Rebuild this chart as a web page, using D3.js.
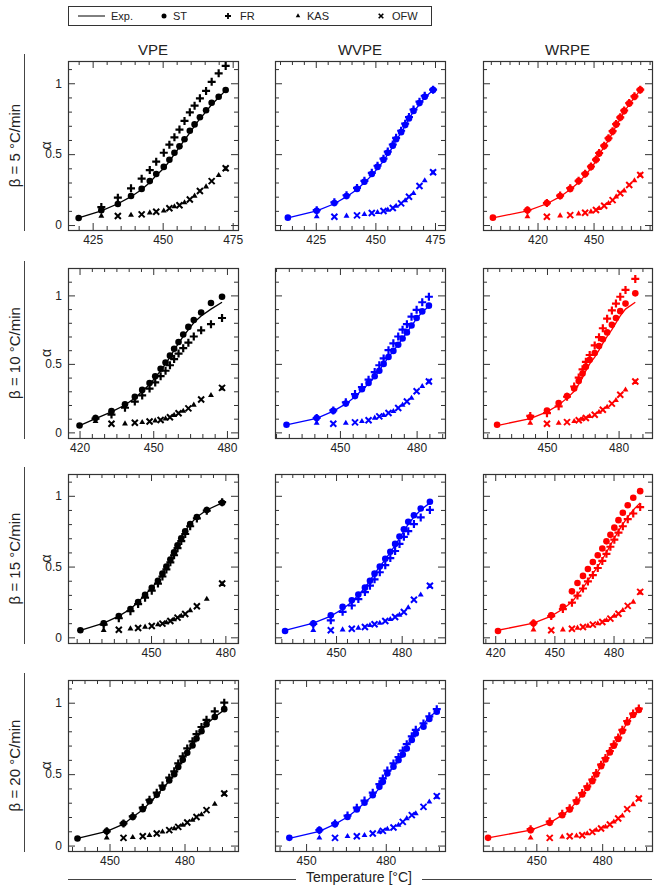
<!DOCTYPE html>
<html><head><meta charset="utf-8">
<script src="https://cdn.jsdelivr.net/npm/d3@7"></script>
<style>body{margin:0;background:#fff}svg{display:block}text{font-family:"Liberation Sans",Arial,sans-serif;fill:#222}</style>
</head><body><svg id="c" width="658" height="886"></svg>
<script>
// ---------- labels ----------
const colLabels = ["VPE", "WVPE", "WRPE"];
const rowLabels = ["β = 5 °C/min", "β = 10 °C/min", "β = 15 °C/min", "β = 20 °C/min"];
const colColors = ["#000000", "#0000ff", "#ff0000"];
const legendLabels = ["Exp.", "ST", "FR", "KAS", "OFW"];
const xTitle = "Temperature [°C]";
const yTitle = "α";
const yTickVals = [0, 0.5, 1];
const xTickVals = [
  [425, 450, 475], [425, 450, 475], [420, 450],
  [420, 450, 480], [450, 480], [450, 480],
  [450, 480], [450, 480], [420, 450, 480],
  [450, 480], [450, 480], [450, 480]
];
const xDomains = [
  [416.2, 476.9], [407.9, 479.2], [390.8, 481.3],
  [415.3, 484.5], [424.6, 491.1], [423.2, 494.0],
  [416.5, 485.1], [422.1, 499.8], [413.8, 499.5],
  [433.4, 501.4], [438.3, 502.3], [425.7, 502.7]
];
const yDomains = [[-0.035, 1.157], [-0.041, 1.2], [-0.04, 1.154], [-0.038, 1.159]];

// ---------- data ----------
const alphaLevels = [0.05,0.1,0.15,0.2,0.25,0.3,0.35,0.4,0.45,0.5,0.55,0.6,0.65,0.7,0.75,0.8,0.85,0.9,0.95];

// VPE, 5 °C/min
const T_VPE5   = [420,428.1,434,438.7,442.5,445.4,447.7,450.4,452.4,454.2,456,457.8,459.7,461.4,463.3,465.5,467.5,470,472.5];
const EXP_VPE5 = alphaLevels;
const ST_VPE5  = [0.05,0.105,0.148,0.205,0.255,0.31,0.36,0.41,0.46,0.51,0.555,0.605,0.665,0.71,0.76,0.81,0.862,0.905,0.952];
const FR_VPE5  = [null,0.127,0.193,0.259,0.327,0.388,0.447,0.51,0.567,0.619,0.673,0.734,0.795,0.842,0.894,0.946,1.01,1.07,1.122];
const KAS_VPE5 = [null,0.064,null,0.07,null,0.087,null,0.1,null,0.13,null,0.158,null,0.205,null,0.27,null,0.35,0.395];
const OFW_VPE5 = [null,null,0.064,null,0.075,null,0.094,null,0.118,null,0.14,null,0.18,null,0.24,null,0.31,null,0.4];

// WVPE, 5 °C/min
const T_WVPE5   = [413.3,425.4,432.8,437.9,442.3,445.4,448.5,450.9,453.4,455.2,457.3,458.7,460.8,462.5,464.1,466,468.5,470.7,474.2];
const EXP_WVPE5 = alphaLevels;
const ST_WVPE5  = [0.052,0.101,0.155,0.205,0.255,0.305,0.36,0.41,0.46,0.51,0.56,0.605,0.655,0.705,0.752,0.805,0.86,0.905,0.953];
const FR_WVPE5  = [null,0.105,0.16,0.21,0.262,0.312,0.368,0.418,0.468,0.518,0.568,0.615,0.665,0.715,0.762,0.815,0.87,0.912,0.955];
const KAS_WVPE5 = [null,0.059,null,0.064,null,0.075,null,0.089,null,0.106,null,0.134,null,0.172,null,0.224,null,0.313,0.368];
const OFW_WVPE5 = [null,null,0.059,null,0.068,null,0.085,null,0.099,null,0.12,null,0.153,null,0.2,null,0.275,null,0.372];

// WRPE, 5 °C/min
const T_WRPE5   = [396.1,414.6,425,432.1,437.5,442,445.5,448.6,451.3,453,455.7,458,460.2,462.1,464.3,466.4,469.1,471.9,475];
const EXP_WRPE5 = alphaLevels;
const ST_WRPE5  = [0.052,0.105,0.155,0.205,0.255,0.31,0.36,0.41,0.46,0.505,0.558,0.61,0.66,0.71,0.758,0.805,0.858,0.905,0.953];
const FR_WRPE5  = [null,0.105,0.155,0.208,0.26,0.312,0.362,0.413,0.462,0.508,0.56,0.612,0.662,0.712,0.76,0.808,0.86,0.908,0.955];
const KAS_WRPE5 = [null,0.059,null,0.066,null,0.08,null,0.094,null,0.118,null,0.153,null,0.2,null,0.242,null,0.313,0.35];
const OFW_WRPE5 = [null,null,0.059,null,0.07,null,0.087,null,0.106,null,0.136,null,0.176,null,0.224,null,0.282,null,0.353];

// VPE, 10 °C/min
const T_VPE10   = [420,426.5,433,438.5,442.5,445.5,448.5,450.8,453,455,456.8,458.5,460.3,462.2,464.3,466.5,469.5,473.5,478];
const EXP_VPE10 = alphaLevels;
const ST_VPE10  = [0.05,0.105,0.155,0.205,0.26,0.31,0.36,0.41,0.465,0.51,0.56,0.61,0.66,0.715,0.77,0.82,0.875,0.945,0.99];
const FR_VPE10  = [null,0.1,0.13,0.18,0.225,0.27,0.32,0.365,0.41,0.45,0.49,0.535,0.575,0.615,0.655,0.7,0.745,0.79,0.835];
const KAS_VPE10 = [null,0.08,null,0.063,null,0.073,null,0.085,null,0.1,null,0.125,null,0.155,null,0.2,null,0.27,0.32];
const OFW_VPE10 = [null,null,0.063,null,0.07,null,0.08,null,0.09,null,0.11,null,0.14,null,0.175,null,0.24,null,0.325];

// WVPE, 10 °C/min
const T_WVPE10   = [429.1,440.9,447.4,452.3,455.9,458.6,461.2,463.6,465.4,467.1,469,470.9,472.8,474.5,476.2,478,480,482.2,484.8];
const EXP_WVPE10 = [0.055,0.103,0.155,0.208,0.26,0.31,0.355,0.405,0.45,0.5,0.548,0.595,0.64,0.685,0.73,0.778,0.83,0.878,0.92];
const ST_WVPE10  = [0.056,0.105,0.158,0.21,0.265,0.315,0.36,0.41,0.45,0.5,0.55,0.595,0.64,0.685,0.73,0.78,0.835,0.883,0.925];
const FR_WVPE10  = [null,0.105,0.16,0.22,0.28,0.33,0.385,0.44,0.49,0.54,0.6,0.65,0.7,0.75,0.79,0.845,0.895,0.95,0.99];
const KAS_WVPE10 = [null,0.068,null,0.068,null,0.08,null,0.105,null,0.124,null,0.153,null,0.2,null,0.25,null,0.336,0.37];
const OFW_WVPE10 = [null,null,0.063,null,0.073,null,0.088,null,0.117,null,0.141,null,0.178,null,0.226,null,0.3,null,0.372];

// WRPE, 10 °C/min
const T_WRPE10   = [429.1,443,450,454.9,458.4,461.4,463.3,464.9,466.3,467.9,470,471.8,473.4,475.2,477.2,478.9,480.7,482.9,487];
const EXP_WRPE10 = alphaLevels;
const ST_WRPE10  = [0.056,0.11,0.16,0.215,0.265,0.32,0.375,0.43,0.48,0.53,0.58,0.63,0.68,0.73,0.785,0.835,0.885,0.94,1.015];
const FR_WRPE10  = [null,0.12,0.14,0.19,0.26,0.335,0.4,0.46,0.515,0.565,0.635,0.695,0.76,0.83,0.89,0.94,0.99,1.04,1.12];
const KAS_WRPE10 = [null,0.068,null,0.068,null,0.08,null,0.097,null,0.117,null,0.148,null,0.185,null,0.234,null,0.31,0.365];
const OFW_WRPE10 = [null,null,0.063,null,0.075,null,0.088,null,0.105,null,0.129,null,0.165,null,0.21,null,0.275,null,0.372];

// VPE, 15 °C/min
const T_VPE15   = [421.5,430.9,437,441.7,444.8,447.6,450.3,452.8,454.6,456.2,457.8,459.3,460.7,462.2,463.8,465.8,468.5,472.5,478.7];
const EXP_VPE15 = alphaLevels;
const ST_VPE15  = alphaLevels;
const FR_VPE15  = [null,0.09,0.135,0.185,0.235,0.28,0.33,0.38,0.43,0.48,0.53,0.58,0.63,0.68,0.73,0.785,0.84,0.895,0.955];
const KAS_VPE15 = [null,0.05,null,0.061,null,0.073,null,0.09,null,0.104,null,0.125,null,0.151,null,0.19,null,0.27,0.375];
const OFW_VPE15 = [null,null,0.054,null,0.066,null,0.08,null,0.097,null,0.116,null,0.139,null,0.165,null,0.22,null,0.38];

// WVPE, 15 °C/min
const T_WVPE15   = [426.7,439.6,447.6,453,457.2,460.2,463.2,465.5,467.6,470,472.5,474.8,477,479,481,483,485.6,488.7,492.9];
const EXP_WVPE15 = alphaLevels;
const ST_WVPE15  = [0.045,0.097,0.156,0.215,0.262,0.302,0.351,0.4,0.45,0.5,0.555,0.605,0.66,0.712,0.764,0.816,0.863,0.91,0.958];
const FR_WVPE15  = [null,0.095,0.12,0.18,0.225,0.27,0.32,0.365,0.41,0.46,0.51,0.56,0.61,0.66,0.71,0.75,0.8,0.847,0.9];
const KAS_WVPE15 = [null,0.05,null,0.054,null,0.066,null,0.085,null,0.101,null,0.127,null,0.158,null,0.21,null,0.3,0.36];
const OFW_WVPE15 = [null,null,0.05,null,0.061,null,0.073,null,0.092,null,0.116,null,0.144,null,0.179,null,0.265,null,0.365];

// WRPE, 15 °C/min
const T_WRPE15   = [421.4,439.4,448.4,454.3,458.9,461.7,464.5,467,469.5,472,474.3,476.4,478.4,480.4,482.5,484.7,487.2,490,493.5];
const EXP_WRPE15 = alphaLevels;
const ST_WRPE15  = [0.045,0.1,0.156,0.215,0.325,0.384,0.434,0.483,0.532,0.58,0.628,0.678,0.724,0.775,0.828,0.88,0.933,0.986,1.033];
const FR_WRPE15  = [null,0.1,0.15,0.2,0.245,0.295,0.345,0.395,0.44,0.49,0.54,0.59,0.64,0.69,0.74,0.785,0.835,0.875,0.92];
const KAS_WRPE15 = [null,0.054,null,0.054,null,0.066,null,0.08,null,0.097,null,0.12,null,0.151,null,0.191,null,0.25,0.315];
const OFW_WRPE15 = [null,null,0.05,null,0.061,null,0.073,null,0.09,null,0.108,null,0.132,null,0.167,null,0.222,null,0.321];

// VPE, 20 °C/min
const T_VPE20   = [437.2,448.9,455.6,459.3,463.3,466,468.9,471.2,473.9,475.9,477.5,479.3,481.1,483.2,484.8,486.8,488.8,492.1,495.9];
const EXP_VPE20 = alphaLevels;
const ST_VPE20  = [0.05,0.1,0.155,0.2,0.255,0.31,0.355,0.405,0.455,0.5,0.55,0.6,0.65,0.7,0.75,0.8,0.85,0.9,0.955];
const FR_VPE20  = [null,0.1,0.155,0.205,0.265,0.32,0.37,0.42,0.475,0.52,0.575,0.625,0.68,0.73,0.78,0.83,0.88,0.94,1.0];
const KAS_VPE20 = [null,0.054,null,0.058,null,0.072,null,0.096,null,0.119,null,0.143,null,0.178,null,0.217,null,0.29,0.36];
const OFW_VPE20 = [null,null,0.054,null,0.065,null,0.084,null,0.108,null,0.131,null,0.161,null,0.2,null,0.248,null,0.365];

// WVPE, 20 °C/min
const T_WVPE20   = [443.7,455,460.9,465.6,469.1,472,475.1,477.6,478.9,480.6,482.9,484.8,486.4,487.9,489.8,491.3,494.2,496.4,499.2];
const EXP_WVPE20 = [0.05,0.1,0.15,0.2,0.25,0.3,0.35,0.4,0.45,0.5,0.55,0.6,0.65,0.7,0.75,0.8,0.85,0.9,0.94];
const ST_WVPE20  = [0.054,0.108,0.15,0.2,0.252,0.3,0.353,0.411,0.446,0.505,0.552,0.598,0.638,0.68,0.739,0.785,0.832,0.886,0.937];
const FR_WVPE20  = [null,0.108,0.155,0.21,0.265,0.315,0.37,0.43,0.47,0.525,0.575,0.62,0.665,0.71,0.765,0.81,0.855,0.905,0.955];
const KAS_WVPE20 = [null,0.054,null,0.065,null,0.072,null,0.096,null,0.115,null,0.143,null,0.19,null,0.224,null,0.306,0.34];
const OFW_WVPE20 = [null,null,0.054,null,0.065,null,0.084,null,0.103,null,0.126,null,0.166,null,0.213,null,0.271,null,0.346];

// WRPE, 20 °C/min
const T_WRPE20   = [428,447.4,456.1,461.8,465.2,468.3,470.9,473.2,475.5,477.3,479.5,481.5,483.5,485.3,487.3,489.2,491.4,494.1,496.7];
const EXP_WRPE20 = [0.054,0.108,0.159,0.213,0.252,0.306,0.358,0.404,0.451,0.498,0.556,0.603,0.652,0.699,0.746,0.8,0.862,0.914,0.949];
const ST_WRPE20  = [0.054,0.108,0.159,0.213,0.252,0.306,0.358,0.404,0.451,0.498,0.556,0.603,0.652,0.699,0.746,0.8,0.862,0.914,0.949];
const FR_WRPE20  = [null,0.115,0.168,0.222,0.262,0.316,0.368,0.414,0.461,0.508,0.566,0.613,0.662,0.709,0.756,0.81,0.872,0.924,0.959];
const KAS_WRPE20 = [null,0.054,null,0.061,null,0.068,null,0.084,null,0.108,null,0.131,null,0.166,null,0.208,null,0.288,0.325];
const OFW_WRPE20 = [null,null,0.054,null,0.065,null,0.072,null,0.096,null,0.119,null,0.147,null,0.189,null,0.255,null,0.33];

const panels = [
  [T_VPE5, EXP_VPE5, ST_VPE5, FR_VPE5, KAS_VPE5, OFW_VPE5],
  [T_WVPE5, EXP_WVPE5, ST_WVPE5, FR_WVPE5, KAS_WVPE5, OFW_WVPE5],
  [T_WRPE5, EXP_WRPE5, ST_WRPE5, FR_WRPE5, KAS_WRPE5, OFW_WRPE5],
  [T_VPE10, EXP_VPE10, ST_VPE10, FR_VPE10, KAS_VPE10, OFW_VPE10],
  [T_WVPE10, EXP_WVPE10, ST_WVPE10, FR_WVPE10, KAS_WVPE10, OFW_WVPE10],
  [T_WRPE10, EXP_WRPE10, ST_WRPE10, FR_WRPE10, KAS_WRPE10, OFW_WRPE10],
  [T_VPE15, EXP_VPE15, ST_VPE15, FR_VPE15, KAS_VPE15, OFW_VPE15],
  [T_WVPE15, EXP_WVPE15, ST_WVPE15, FR_WVPE15, KAS_WVPE15, OFW_WVPE15],
  [T_WRPE15, EXP_WRPE15, ST_WRPE15, FR_WRPE15, KAS_WRPE15, OFW_WRPE15],
  [T_VPE20, EXP_VPE20, ST_VPE20, FR_VPE20, KAS_VPE20, OFW_VPE20],
  [T_WVPE20, EXP_WVPE20, ST_WVPE20, FR_WVPE20, KAS_WVPE20, OFW_WVPE20],
  [T_WRPE20, EXP_WRPE20, ST_WRPE20, FR_WRPE20, KAS_WRPE20, OFW_WRPE20]
];

// ---------- layout ----------
const colX = [[68, 238], [275, 445], [483, 652]];
const rowY = [[61, 230], [268, 438], [474, 643], [680, 851]];
const frameColor = "#333";

const svg = d3.select("#c");

const plusPath = "M-4,0H4M0,-4V4";
const xPath = "M-3,-3L3,3M-3,3L3,-3";
const triPath = d3.symbol(d3.symbolTriangle, 15)();

function drawPanel(r, c) {
  const idx = r * 3 + c;
  const [T, EXP, ST, FR, KAS, OFW] = panels[idx];
  const color = colColors[c];
  const [x0, x1] = colX[c], [y0, y1] = rowY[r];
  const x = d3.scaleLinear().domain(xDomains[idx]).range([x0, x1]);
  const y = d3.scaleLinear().domain(yDomains[r]).range([y1, y0]);
  const g = svg.append("g");
  const dom = x.domain();
  const xMin = d3.range(Math.ceil(dom[0] / 5) * 5, dom[1], 5).filter(v => !xTickVals[idx].includes(v));
  const yMin = [0.1,0.2,0.3,0.4,0.6,0.7,0.8,0.9,1.1].filter(v => v > yDomains[r][0] && v < yDomains[r][1]);

  const style = sel => { sel.select(".domain").remove(); sel.selectAll("line").attr("stroke", frameColor); sel.selectAll("text").style("font-size", "12px").attr("fill", "#222"); };
  g.append("g").attr("transform", `translate(0,${y1})`)
    .call(d3.axisBottom(x).tickValues(xTickVals[idx]).tickFormat(d3.format("d")).tickSizeInner(-7).tickSizeOuter(0).tickPadding(5)).call(style);
  g.append("g").attr("transform", `translate(0,${y1})`)
    .call(d3.axisBottom(x).tickValues(xMin).tickFormat("").tickSizeInner(-4).tickSizeOuter(0)).call(style);
  g.append("g").attr("transform", `translate(0,${y0})`)
    .call(d3.axisTop(x).tickValues(xTickVals[idx]).tickFormat("").tickSizeInner(-7).tickSizeOuter(0)).call(style);
  g.append("g").attr("transform", `translate(0,${y0})`)
    .call(d3.axisTop(x).tickValues(xMin).tickFormat("").tickSizeInner(-4).tickSizeOuter(0)).call(style);
  g.append("g").attr("transform", `translate(${x0},0)`)
    .call(d3.axisLeft(y).tickValues(yTickVals).tickFormat(c === 0 ? (d => d === 0.5 ? "0.5" : String(d)) : "").tickSizeInner(-7).tickSizeOuter(0).tickPadding(6)).call(style);
  g.append("g").attr("transform", `translate(${x0},0)`)
    .call(d3.axisLeft(y).tickValues(yMin).tickFormat("").tickSizeInner(-4).tickSizeOuter(0)).call(style);
  g.append("g").attr("transform", `translate(${x1},0)`)
    .call(d3.axisRight(y).tickValues(yTickVals).tickFormat("").tickSizeInner(-7).tickSizeOuter(0)).call(style);
  g.append("g").attr("transform", `translate(${x1},0)`)
    .call(d3.axisRight(y).tickValues(yMin).tickFormat("").tickSizeInner(-4).tickSizeOuter(0)).call(style);
  g.append("rect").attr("x", x0 + 0.5).attr("y", y0 + 0.5).attr("width", x1 - x0).attr("height", y1 - y0)
    .attr("fill", "none").attr("stroke", frameColor).attr("stroke-width", 1.2);

  const pts = arr => T.map((t, i) => [t, arr[i]]).filter(d => d[1] != null);

  // Exp line
  g.append("path").datum(pts(EXP)).attr("fill", "none").attr("stroke", color).attr("stroke-width", 1.3)
    .attr("d", d3.line().x(d => x(d[0])).y(d => y(d[1])));

  // KAS triangles
  g.selectAll(null).data(pts(KAS)).join("path").attr("d", triPath)
    .attr("transform", d => `translate(${x(d[0])},${y(d[1])})`).attr("fill", color);
  // OFW x
  g.selectAll(null).data(pts(OFW)).join("path").attr("d", xPath)
    .attr("transform", d => `translate(${x(d[0])},${y(d[1])})`).attr("stroke", color).attr("stroke-width", 2).attr("fill", "none");
  // ST circles
  g.selectAll(null).data(pts(ST)).join("circle")
    .attr("cx", d => x(d[0])).attr("cy", d => y(d[1])).attr("r", 3.3).attr("fill", color);
  // FR plus
  g.selectAll(null).data(pts(FR)).join("path").attr("d", plusPath)
    .attr("transform", d => `translate(${x(d[0])},${y(d[1])})`).attr("stroke", color).attr("stroke-width", 2.2).attr("fill", "none");

  if (r === 0) {
    svg.append("text").attr("x", (x0 + x1) / 2).attr("y", 55).attr("text-anchor", "middle")
      .style("font-size", "15px").text(colLabels[c]);
  }
  if (c === 0) {
    const cy = (y0 + y1) / 2;
    svg.append("text").attr("transform", `translate(46,${cy}) rotate(-90)`).attr("text-anchor", "middle")
      .attr("dominant-baseline", "central").style("font-size", "14px").text(yTitle);
    svg.append("text").attr("transform", `translate(14,${cy}) rotate(-90)`).attr("text-anchor", "middle")
      .attr("dominant-baseline", "central").style("font-size", "15px").text(rowLabels[r]);
    svg.append("line").attr("x1", 24.5).attr("x2", 24.5).attr("y1", y0 - 7).attr("y2", y1 + 1)
      .attr("stroke", "#444").attr("stroke-width", 1);
  }
}

for (let r = 0; r < 4; r++) for (let c = 0; c < 3; c++) drawPanel(r, c);

// ---------- legend ----------
const lg = svg.append("g");
lg.append("rect").attr("x", 68.5).attr("y", 6.5).attr("width", 363).attr("height", 19)
  .attr("fill", "#fff").attr("stroke", "#333").attr("stroke-width", 1);
const ly = 16;
lg.append("line").attr("x1", 78).attr("x2", 105).attr("y1", ly).attr("y2", ly).attr("stroke", "#000").attr("stroke-width", 1);
lg.append("circle").attr("cx", 164).attr("cy", ly).attr("r", 2.5).attr("fill", "#000");
lg.append("path").attr("d", "M-3,0H3M0,-3V3").attr("transform", `translate(228,${ly})`).attr("stroke", "#000").attr("stroke-width", 1.8);
lg.append("path").attr("d", d3.symbol(d3.symbolTriangle, 9)()).attr("transform", `translate(298,${ly})`).attr("fill", "#000");
lg.append("path").attr("d", "M-2.3,-2.3L2.3,2.3M-2.3,2.3L2.3,-2.3").attr("transform", `translate(381,${ly})`).attr("stroke", "#000").attr("stroke-width", 1.6);
const lx = [111, 173, 240, 307, 392];
legendLabels.forEach((t, i) => {
  lg.append("text").attr("x", lx[i]).attr("y", ly).attr("dominant-baseline", "central").style("font-size", "11px").text(t);
});

// ---------- bottom title ----------
svg.append("line").attr("x1", 68).attr("x2", 296).attr("y1", 879.5).attr("y2", 879.5).attr("stroke", "#444");
svg.append("line").attr("x1", 422).attr("x2", 652).attr("y1", 879.5).attr("y2", 879.5).attr("stroke", "#444");
svg.append("text").attr("x", 359).attr("y", 877).attr("text-anchor", "middle").attr("dominant-baseline", "central")
  .style("font-size", "14px").text(xTitle);
</script></body></html>
